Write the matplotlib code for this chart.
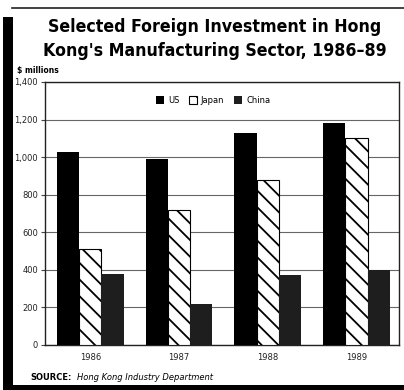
import matplotlib
matplotlib.use("Agg")
import matplotlib.pyplot as plt
from matplotlib.patches import Rectangle
from matplotlib.lines import Line2D
import numpy as np

years = ["1986", "1987", "1988", "1989"]
us = [1030, 990, 1130, 1180]
japan = [510, 720, 880, 1100]
china = [380, 220, 375, 400]
yticks = [0, 200, 400, 600, 800, 1000, 1200, 1400]
ytick_labels = ["0", "200", "400", "600", "800", "1,000", "1,200", "1,400"]

W, H = 404, 390
plt.rcParams['hatch.linewidth'] = 1.3
fig = plt.figure(figsize=(W / 100, H / 100), dpi=100)
fig.patch.set_facecolor("white")

def fx(x):
    return x / W

def fy(y):
    return 1 - y / H

# frame
fig.add_artist(Line2D([fx(12), fx(404)], [fy(8), fy(8)], color="#222", lw=1.2))
fig.add_artist(Rectangle((fx(3), fy(390)), fx(10), (390 - 17) / H, color="black", lw=0))
fig.add_artist(Rectangle((fx(3), fy(390)), fx(401), 5 / H, color="black", lw=0))

title_font = ['DejaVu Sans']
fig.text(fx(215), fy(27), "Selected Foreign Investment in Hong", ha="center", va="center",
         fontsize=12.7, fontweight="bold", fontstretch="condensed", family=title_font)
fig.text(fx(215), fy(51), "Kong's Manufacturing Sector, 1986\u201389", ha="center", va="center",
         fontsize=12.7, fontweight="bold", fontstretch="condensed", family=title_font)

ax = fig.add_axes([fx(45), fy(345), (399 - 45) / W, (345 - 82) / H])
x = np.arange(len(years))
w = 0.25
ax.bar(x - w, us, w, color="black", zorder=3, label="US")
ax.bar(x, japan, w, color="white", edgecolor="black", hatch="\\\\", linewidth=0.8, zorder=3, label="Japan")
ax.bar(x + w, china, w, color="#1e1e1e", zorder=3, label="China")

ax.set_xlim(-0.51, 3.48)
ax.set_ylim(0, 1400)
ax.set_yticks(yticks)
ax.set_yticklabels(ytick_labels)
ax.set_xticks(x)
ax.set_xticklabels(years)
ax.yaxis.grid(True, color="#666", lw=0.8, zorder=0)
ax.tick_params(axis="y", length=3, color="#444", labelsize=6, pad=2, labelcolor="#222")
ax.tick_params(axis="x", length=0, labelsize=6, pad=6, labelcolor="#222")
for s in ax.spines.values():
    s.set_color("#222")
    s.set_linewidth(1.0)

leg = ax.legend(loc="center", bbox_to_anchor=(0.475, 0.93), ncol=3, frameon=False,
                fontsize=6, handlelength=0.9, handleheight=1.0, columnspacing=1.2, handletextpad=0.5)

fig.text(fx(17), fy(70), "$ millions", ha="left", va="center", fontsize=5.5, fontweight="bold")
fig.text(fx(30), fy(377), "SOURCE:", ha="left", va="center", fontsize=6, fontweight="bold")
fig.text(fx(77), fy(377), "Hong Kong Industry Department", ha="left", va="center", fontsize=6, style="italic")

fig.savefig("out.png", dpi=100)
